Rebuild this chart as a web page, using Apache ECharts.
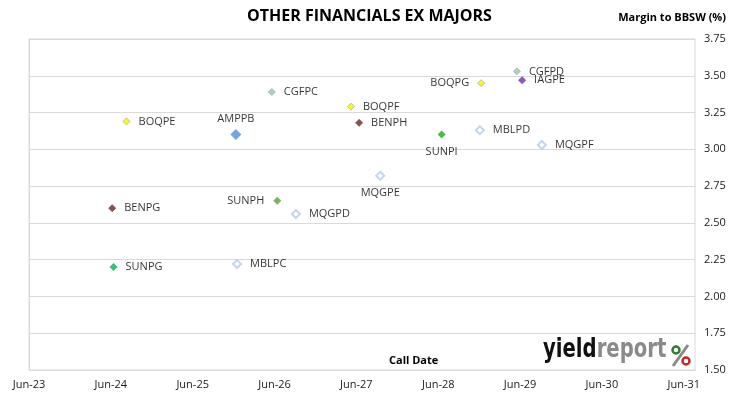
<!DOCTYPE html>
<html>
<head>
<meta charset="utf-8">
<script src="https://cdn.jsdelivr.net/npm/echarts@6/dist/echarts.min.js"></script>
<style>html,body{margin:0;padding:0;background:#fff;}#c{width:730px;height:399px;}</style>
</head>
<body>
<div id="c"></div>
<script>
// Data
const securities = ['BOQPE','AMPPB','CGFPC','BOQPF','BENPH','CGFPD','IAGPE','BOQPG','SUNPI','MBLPD','MQGPF','MQGPE','SUNPH','MQGPD','BENPG','SUNPG','MBLPC'];
const callDates = ['2024-08-10','2025-12-11','2026-05-19','2027-05-07','2027-06-13','2029-05-17','2029-06-10','2028-12-10','2028-06-16','2028-12-04','2029-09-07','2027-09-16','2026-06-13','2026-09-05','2024-06-07','2024-06-13','2025-12-16'];
const margins = [3.19, 3.10, 3.39, 3.29, 3.18, 3.53, 3.47, 3.45, 3.10, 3.13, 3.03, 2.82, 2.65, 2.56, 2.60, 2.20, 2.22];
const xTickLabels = ['Jun-23','Jun-24','Jun-25','Jun-26','Jun-27','Jun-28','Jun-29','Jun-30','Jun-31'];

// Styling (kept separate from data)
const issuerStyle = {
  BOQ: {color:'#f4f400', borderColor:'#b0b08a', borderWidth:1, size:7},
  AMP: {color:'#548dd4', borderColor:'#548dd4', borderWidth:0, size:11},
  CGF: {color:'#a8c29c', borderColor:'#93b1d6', borderWidth:1, size:7},
  BEN: {color:'#672626', borderColor:'#864848', borderWidth:1, size:7},
  IAG: {color:'#7030a0', borderColor:'#7030a0', borderWidth:0, size:8},
  MBL: {color:'#ffffff', borderColor:'#b8cae8', borderWidth:2, size:8},
  MQG: {color:'#ffffff', borderColor:'#b8cae8', borderWidth:2, size:8}
};
const sunStyle = {
  SUNPI: {color:'#1aae1a', borderColor:'#1aae1a', borderWidth:0, size:8},
  SUNPH: {color:'#5f9e3c', borderColor:'#5f9e3c', borderWidth:0, size:8},
  SUNPG: {color:'#0cae58', borderColor:'#0cae58', borderWidth:0, size:8}
};
const labelPlace = {AMPPB:['top',5], BOQPG:['left',8], SUNPI:['bottom',8], MQGPE:['bottom',7], SUNPH:['left',9]};

function monthsSinceJun23(s){
  const p = s.split('-').map(Number);
  return (p[0]-2023)*12 + (p[1]-6) + (p[2]-1)/30;
}

const points = securities.map((name,i)=>{
  const st = sunStyle[name] || issuerStyle[name.slice(0,3)];
  const lp = labelPlace[name] || ['right',8];
  return {
    name: name,
    value: [monthsSinceJun23(callDates[i]), margins[i]],
    symbolSize: st.size,
    itemStyle: {color: st.color, borderColor: st.borderColor, borderWidth: st.borderWidth},
    label: {show:true, position: lp[0], distance: lp[1], formatter: name, color:'#000000'}
  };
});

const chart = echarts.init(document.getElementById('c'), null, {renderer:'canvas'});
chart.setOption({
  animation:false,
  backgroundColor:'#ffffff',
  textStyle:{fontFamily:'Open Sans'},
  grid:{left:29, right:35, top:39, bottom:29, show:true, borderColor:'#d9d9d9', borderWidth:1, containLabel:false},
  xAxis:{
    type:'value', min:0, max:97.65, interval:12,
    axisLine:{show:true, lineStyle:{color:'#d9d9d9'}},
    axisTick:{show:false},
    splitLine:{show:false},
    axisLabel:{showMaxLabel:false, color:'#1a1a1a', fontSize:11, fontFamily:'Open Sans', margin:9,
      formatter:function(v){ const k = Math.round(v/12); return (Math.abs(v-k*12)<1e-6 && xTickLabels[k]) ? xTickLabels[k] : ''; }}
  },
  yAxis:{
    type:'value', position:'right', min:1.5, max:3.75, interval:0.25,
    axisLine:{show:true, lineStyle:{color:'#d9d9d9'}},
    axisTick:{show:true, inside:false, length:4, lineStyle:{color:'#d9d9d9'}},
    splitLine:{show:true, lineStyle:{color:'#d9d9d9', width:1}},
    axisLabel:{color:'#1a1a1a', fontSize:11, fontFamily:'Open Sans', margin:9, formatter:function(v){return v.toFixed(2);}}
  },
  series:[{
    type:'scatter', symbol:'diamond',
    data: points,
    label:{show:true, color:'#000000', fontSize:11, fontFamily:'Open Sans'},
    emphasis:{disabled:true}
  }],
  graphic:[
    {type:'text', left:247, top:8, style:{text:'OTHER FINANCIALS EX MAJORS', font:'bold 16px "Open Sans"', fill:'#000000'}},
    {type:'text', right:4, top:12, style:{text:'Margin to BBSW (%)', font:'bold 11px "Open Sans"', fill:'#000000'}},
    {type:'text', left:389, top:355, style:{text:'Call Date', font:'bold 11px "Open Sans"', fill:'#000000'}},
    {type:'text', x:543, y:337, scaleX:0.84, style:{
      rich:{a:{font:'bold 26px "Liberation Sans Narrow", "DejaVu Sans Condensed", "Roboto Condensed", sans-serif', fill:'#111111'},
            b:{font:'bold 26px "Liberation Sans Narrow", "DejaVu Sans Condensed", "Roboto Condensed", sans-serif', fill:'#8a8a8a'}},
      text:'{a|yield}{b|report}'}},
    {type:'line', shape:{x1:673, y1:366, x2:688, y2:345}, style:{stroke:'#8a8a8a', lineWidth:3}},
    {type:'circle', shape:{cx:676, cy:350, r:3.5}, style:{fill:'#ffffff', stroke:'#2e7d32', lineWidth:2.5}},
    {type:'circle', shape:{cx:686, cy:361, r:3.5}, style:{fill:'#ffffff', stroke:'#c62828', lineWidth:2.5}}
  ]
});
</script>
</body>
</html>
